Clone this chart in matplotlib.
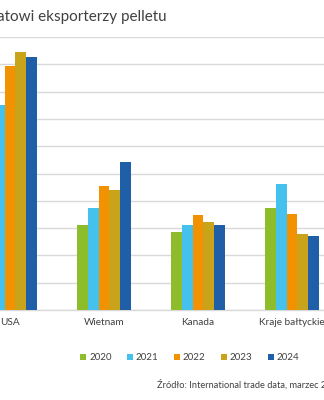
import matplotlib
matplotlib.use("Agg")
import matplotlib.pyplot as plt
from matplotlib.lines import Line2D
import numpy as np

plt.rcParams['font.family'] = ['Lato', 'DejaVu Sans']

categories = ["USA", "Wietnam", "Kanada", "Kraje bałtyckie"]
years = ["2020", "2021", "2022", "2023", "2024"]
values = {
    "2020": [7.3, 3.1, 2.85, 3.75],
    "2021": [7.5, 3.75, 3.1, 4.63],
    "2022": [8.95, 4.55, 3.48, 3.5],
    "2023": [9.45, 4.38, 3.21, 2.77],
    "2024": [9.27, 5.41, 3.1, 2.71],
}
colors = ["#8dbd2a", "#45c1ee", "#f39200", "#c9a31a", "#1f5fa8"]

W, H = 324, 400
fig = plt.figure(figsize=(W / 100, H / 100), dpi=100)
ax_left = -37 / W
ax_w = 376 / W
ax_bottom = (H - 310) / H
ax_h = (310 - 37) / H
ax = fig.add_axes([ax_left, ax_bottom, ax_w, ax_h])

x = np.arange(len(categories))
bw = 0.117
for i, (y, c) in enumerate(zip(years, colors)):
    ax.bar(x + (i - 2) * bw, values[y], width=bw, color=c, zorder=3, linewidth=0)

ax.set_xlim(-0.5, 3.5)
ax.set_ylim(0, 10)
ax.set_yticks(np.arange(0, 11, 1))
ax.yaxis.grid(True, color="#d9d9d9", linewidth=1.0, zorder=0)
ax.tick_params(axis='y', length=0, labelleft=False)
ax.tick_params(axis='x', length=0, pad=6, labelsize=7.2, labelcolor="#404040")
ax.set_xticks(x)
ax.set_xticklabels(categories)
for s in ["top", "right", "left"]:
    ax.spines[s].set_visible(False)
ax.spines["bottom"].set_color("#d9d9d9")
ax.spines["bottom"].set_linewidth(1.0)

fig.text(167 / W, 1 - 15 / H, "Światowi eksporterzy pelletu", ha='right', va='center',
         fontsize=11, color="#404040")

handles = [Line2D([0], [0], marker='s', linestyle='none', markersize=4.5,
                  markerfacecolor=c, markeredgewidth=0) for c in colors]
fig.legend(handles, years, loc='center', bbox_to_anchor=(190 / W, 1 - 358 / H),
           ncol=5, frameon=False, fontsize=7, handlelength=0.6, handletextpad=0.3,
           columnspacing=1.6, labelcolor="#404040")

fig.text(157 / W, 1 - 385 / H, "Źródło: International trade data, marzec 2025",
         ha='left', va='center', fontsize=6.7, color="#404040")

fig.savefig("out.png", dpi=100)
